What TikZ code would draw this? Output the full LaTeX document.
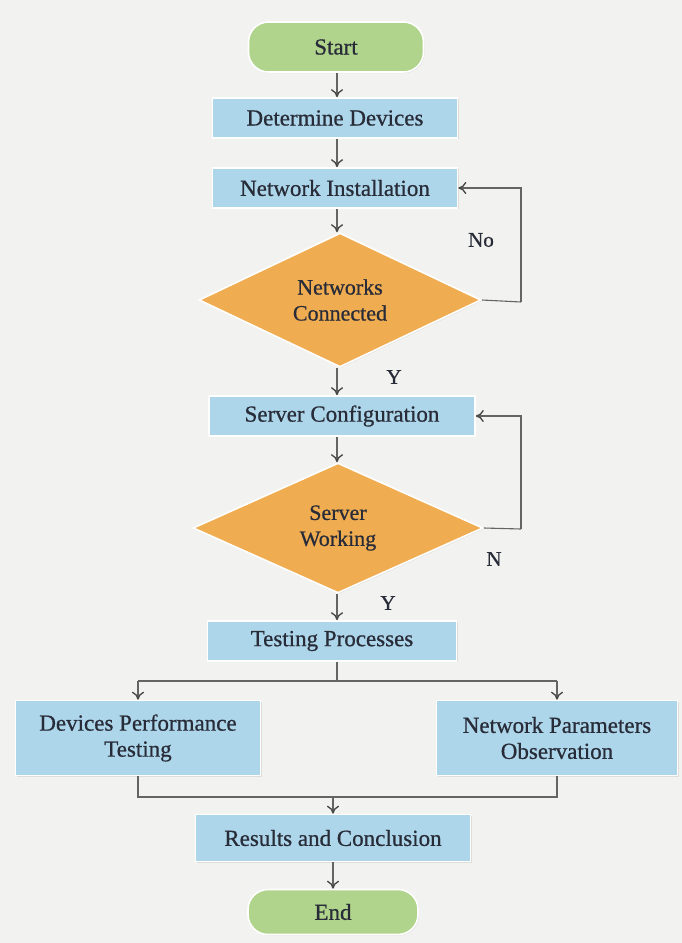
\documentclass[tikz,border=0pt]{standalone}
\usepackage{fontspec}
\setmainfont{Liberation Serif}
\newfontfamily\tnr{Liberation Serif}[FakeBold=0.7]
\usetikzlibrary{shapes.geometric,arrows.meta,shadows}
\definecolor{bg}{RGB}{242,242,240}
\definecolor{boxblue}{RGB}{174,214,234}
\definecolor{pillgreen}{RGB}{176,212,140}
\definecolor{dorange}{RGB}{240,172,80}
\definecolor{ink}{RGB}{40,44,56}
\definecolor{lin}{RGB}{100,100,100}
\definecolor{tip}{RGB}{70,70,70}
\tikzset{
  base/.style={draw=white, line width=1.6pt, text=ink, font=\tnr\fontsize{23}{26}\selectfont,
    drop shadow={opacity=0.18, shadow xshift=1pt, shadow yshift=-1pt}},
  procbox/.style={base, rectangle, fill=boxblue, inner sep=0pt, align=center},
  pill/.style={base, rectangle, rounded corners=20pt, fill=pillgreen, inner sep=0pt},
  decis/.style={base, diamond, aspect=2.1, fill=dorange, inner sep=0pt, align=center,
    font=\tnr\fontsize{22}{26}\selectfont},
  conn/.style={draw=lin, line width=1.1pt, -{To[length=8pt,width=12pt,line width=1.3pt,color=tip]}},
  plain/.style={draw=lin, line width=1.1pt},
  lbl/.style={text=ink, font=\tnr\fontsize{21}{24}\selectfont, inner sep=0pt}
}
\begin{document}
\begin{tikzpicture}[x=1pt,y=-1pt]
\fill[bg] (0,0) rectangle (682,943);
\useasboundingbox (0,0) rectangle (682,943);

\node[pill, minimum width=175pt, minimum height=50pt] (start) at (336,47) {Start};
\node[procbox, minimum width=245pt, minimum height=40pt] (det) at (335,118) {Determine Devices};
\node[procbox, minimum width=245pt, minimum height=40pt] (net) at (335,188) {Network Installation};
\node[decis, minimum width=282pt, minimum height=134pt] (d1) at (340,300) {Networks\\Connected};
\node[procbox, minimum width=266pt, minimum height=40pt] (sc) at (342,416) {Server Configuration};
\node[decis, minimum width=290pt, minimum height=130pt] (d2) at (338,528) {Server\\Working};
\node[procbox, minimum width=249pt, minimum height=40pt] (tp) at (332,641) {Testing Processes};
\node[procbox, minimum width=245pt, minimum height=75pt] (dp) at (138,738) {Devices Performance\\Testing};
\node[procbox, minimum width=241pt, minimum height=75pt] (np) at (557,738) {Network Parameters\\Observation};
\node[procbox, minimum width=275pt, minimum height=47pt] (rc) at (333,838) {Results and Conclusion};
\node[pill, minimum width=170pt, minimum height=45pt] (end) at (333,912) {End};

\node[lbl] (lno) at (481,240) {No};
\node[lbl] (ly1) at (394,377) {Y};
\node[lbl] (ln) at (494,559) {N};
\node[lbl] (ly2) at (388,603) {Y};

\coordinate (c1) at (521,302);
\coordinate (c2) at (521,529);
\coordinate (sp) at (337,681);
\coordinate (mg) at (333,797);

\draw[conn] (start.south -| 337,0) -- (det.north -| 337,0);
\draw[conn] (det.south -| 337,0) -- (net.north -| 337,0);
\draw[conn] (net.south -| 337,0) -- (d1.north -| 337,0);
\draw[plain] (d1.east) -- (c1);
\draw[conn] (c1) |- (net.east);
\draw[conn] (d1.south -| 337,0) -- (sc.north -| 337,0);
\draw[conn] (sc.south -| 337,0) -- (d2.north -| 337,0);
\draw[plain] (d2.east) -- (c2);
\draw[conn] (c2) |- (sc.east);
\draw[conn] (d2.south -| 337,0) -- (tp.north -| 337,0);
\draw[plain] (tp.south -| sp) -- (sp);
\draw[plain] (dp.north |- sp) -- (np.north |- sp);
\draw[conn] (dp.north |- sp) -- (dp.north);
\draw[conn] (np.north |- sp) -- (np.north);
\draw[plain] (dp.south) -- (dp.south |- mg) -- (np.south |- mg) -- (np.south);
\draw[conn] (mg) -- (rc.north -| mg);
\draw[conn] (rc.south -| mg) -- (end.north -| mg);
\end{tikzpicture}
\end{document}
